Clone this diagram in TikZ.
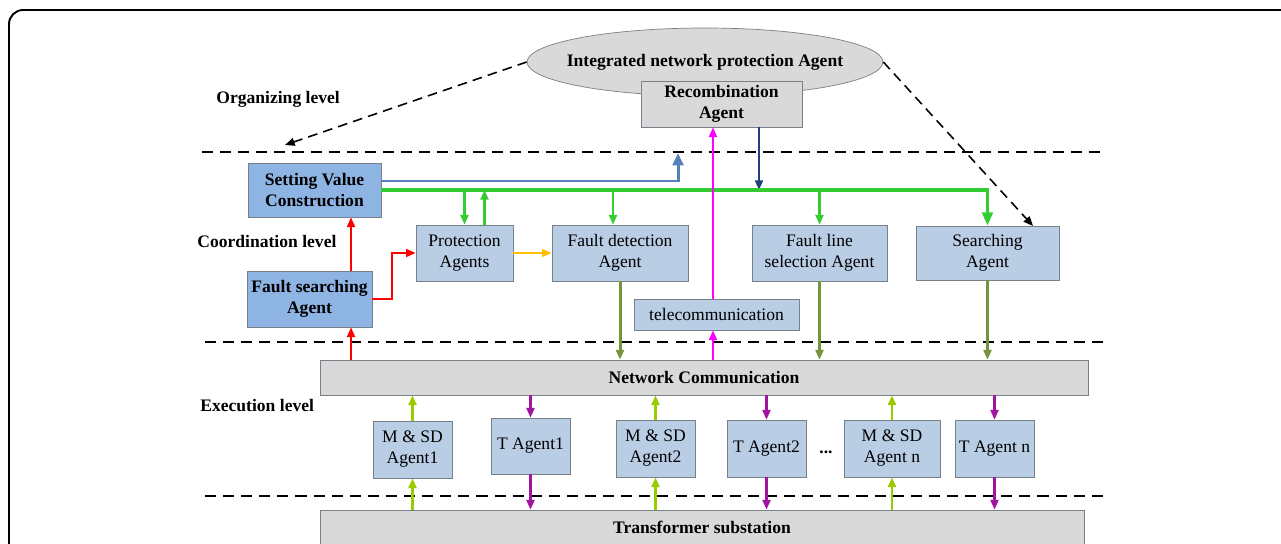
\documentclass[tikz,border=0pt]{standalone}
\usepackage{fontspec}
\setmainfont{Liberation Serif}
\usetikzlibrary{arrows.meta}
\usetikzlibrary{shapes.geometric}
\definecolor{boxgray}{RGB}{217,217,217}
\definecolor{edgegray}{RGB}{120,128,138}
\definecolor{boxblue}{RGB}{142,180,227}
\definecolor{boxlight}{RGB}{185,205,229}
\definecolor{busgreen}{RGB}{51,204,51}
\definecolor{lineblue}{RGB}{84,128,186}
\definecolor{navy}{RGB}{31,65,125}
\definecolor{olive}{RGB}{119,147,60}
\definecolor{limeg}{RGB}{153,204,0}
\definecolor{purp}{RGB}{160,20,160}
\definecolor{orng}{RGB}{255,192,0}
\definecolor{magl}{RGB}{255,0,255}

\begin{document}
\begin{tikzpicture}[x=0.02cm,y=-0.02cm,>/.tip={Triangle[length=5.5pt,width=4.5pt]},
	graybox/.style={draw=edgegray,fill=boxgray,inner sep=0pt,align=center,font=\bfseries},
	bluebox/.style={draw=edgegray,fill=boxblue,inner sep=0pt,align=center,font=\bfseries},
	agentbox/.style={draw=edgegray,fill=boxlight,inner sep=0pt,align=center},
	levellabel/.style={anchor=west,inner sep=0pt,font=\bfseries},
	sepline/.style={line width=1.1pt,dash pattern=on 6.3pt off 4pt},
	blackdash/.style={line width=0.9pt,dash pattern=on 5.5pt off 3.5pt},
	greenl/.style={busgreen,line width=1.3pt},
	redl/.style={red,line width=1.2pt},
	magline/.style={magl,line width=1.2pt},
	olivel/.style={olive,line width=1.7pt},
	limel/.style={limeg,line width=1.4pt},
	purpl/.style={purp,line width=1.2pt}]
	\useasboundingbox (0,0) rectangle (1281,544);
	\clip (0,0) rectangle (1281,544);
	\draw[line width=1.1pt,rounded corners=8pt] (9,600) -- (9,10) -- (1320,10);

	\draw[sepline] (202,152) -- (1103,152);
	\draw[sepline] (205,342) -- (1103,342);
	\draw[sepline] (205,496) -- (1103,496);

	\node[levellabel] (orglvl) at (216,99) {Organizing level};
	\node[levellabel] (coolvl) at (197,241) {Coordination level};
	\node[levellabel] (exelvl) at (200,406) {Execution level};

	\draw (705,62) node (ipa) [ellipse,draw=edgegray,fill=boxgray,minimum width=7.12cm,minimum height=1.36cm,inner sep=0pt] {};
	\node[font=\bfseries] (ipatext) at (ipa.center) {Integrated network protection Agent};
	\draw (721.5,104) node (recomb) [graybox,minimum width=3.22cm,minimum height=0.92cm] {Recombination\\Agent};
	\draw (314.5,190) node (setval) [bluebox,minimum width=2.66cm,minimum height=1.08cm] {Setting Value\\Construction};
	\draw (309.5,299) node (fsearch) [bluebox,minimum width=2.5cm,minimum height=1.12cm] {Fault searching\\Agent};
	\draw (464.5,253) node (prot) [agentbox,minimum width=1.94cm,minimum height=1.12cm] {Protection\\Agents};
	\draw (620,253) node (fdet) [agentbox,minimum width=2.72cm,minimum height=1.12cm] {Fault detection\\Agent};
	\draw (819.5,253) node (fline) [agentbox,minimum width=2.7cm,minimum height=1.12cm] {Fault line\\selection Agent};
	\draw (987.5,253) node (search) [agentbox,minimum width=2.86cm,minimum height=1.08cm] {Searching\\Agent};
	\draw (716.5,314.5) node (telecom) [agentbox,minimum width=3.3cm,minimum height=0.62cm] {telecommunication};
	\draw (704,377.5) node (netcom) [graybox,minimum width=15.36cm,minimum height=0.7cm] {Network Communication};
	\draw (702,527.5) node (trans) [graybox,minimum width=15.28cm,minimum height=0.7cm] {Transformer substation};

	\draw (412.5,449.5) node (msd1) [agentbox,minimum width=1.58cm,minimum height=1.14cm] {M \& SD\\Agent1};
	\draw (530.5,446) node (t1) [agentbox,minimum width=1.58cm,minimum height=1.12cm] {T Agent1};
	\draw (655.5,448.5) node (msd2) [agentbox,minimum width=1.58cm,minimum height=1.14cm] {M \& SD\\Agent2};
	\draw (766.5,448.5) node (t2) [agentbox,minimum width=1.58cm,minimum height=1.14cm] {T Agent2};
	\draw (826,452) node (dots) [font=\bfseries] {...};
	\draw (892,448.5) node (msdn) [agentbox,minimum width=1.92cm,minimum height=1.14cm] {M \& SD\\Agent n};
	\draw (994.5,448.5) node (tn) [agentbox,minimum width=1.58cm,minimum height=1.14cm] {T Agent n};

	\coordinate (orgtip) at (285,145);
	\coordinate (srchtip) at (1033,226);
	\draw[blackdash,->] (ipa.west) -- (orgtip);
	\draw[blackdash,->] (ipa.east) -- (srchtip);

	\coordinate (bluetip) at (678,153);
	\draw[lineblue,line width=1.7pt,-{Triangle[length=7pt,width=6pt]}] ([yshift=0.18cm]setval.east) -| (bluetip);
	\coordinate (navytop) at ([xshift=0.75cm]recomb.south);
	\draw[navy,line width=1.3pt,->] (navytop) -- (navytop |- setval.east);

	\draw[busgreen,line width=1.8pt,-{Triangle[length=7.5pt,width=6pt]}] (setval.east) -| (search.north);
	\draw[greenl,->] (prot.north |- setval.east) -- (prot.north);
	\coordinate (protup) at ([xshift=0.4cm]prot.north);
	\draw[greenl,->] (protup) -- (protup |- setval.east);
	\coordinate (fdetin) at ([xshift=-0.14cm]fdet.north);
	\draw[greenl,->] (fdetin |- setval.east) -- (fdetin);
	\draw[greenl,->] (fline.north |- setval.east) -- (fline.north);

	\coordinate (telex) at (713,0);
	\draw[magline,->] (telex |- netcom.north) -- (telex |- telecom.south);
	\draw[magline,->] (telex |- telecom.north) -- (telex |- recomb.south);

	\draw[olivel,->] (fdet.south) -- (fdet.south |- netcom.north);
	\draw[olivel,->] (fline.south) -- (fline.south |- netcom.north);
	\draw[olivel,->] (search.south) -- (search.south |- netcom.north);

	\coordinate (redx) at (351,0);
	\draw[redl,->] (redx |- fsearch.north) -- (redx |- setval.south);
	\draw[redl,->] (redx |- netcom.north) -- (redx |- fsearch.south);
	\draw[redl,->] (fsearch.east) -- ++(20,0) |- (prot.west);
	\draw[orng,line width=1.2pt,->] (prot.east) -- (fdet.west);

	\foreach \ms in {msd1,msd2,msdn} {
		\draw[limel,->] (\ms.north) -- (\ms.north |- netcom.south);
		\draw[limel,->] (\ms.south |- trans.north) -- (\ms.south);
	}
	\foreach \ta in {t1,t2,tn} {
		\draw[purpl,->] (\ta.north |- netcom.south) -- (\ta.north);
		\draw[purpl,->] (\ta.south) -- (\ta.south |- trans.north);
	}
\end{tikzpicture}
\end{document}
